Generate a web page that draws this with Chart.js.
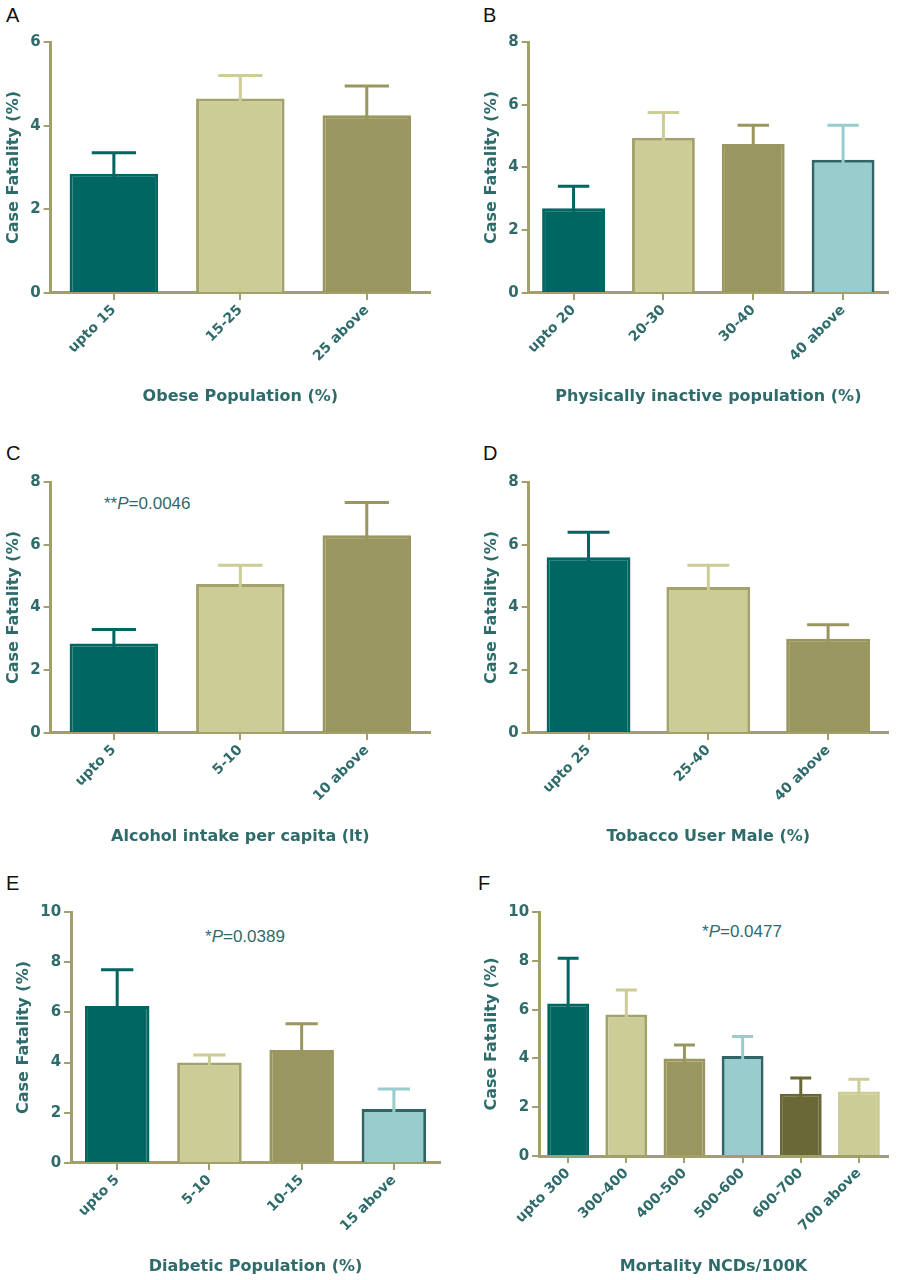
<!DOCTYPE html>
<html><head><meta charset="utf-8">
<script src="https://cdn.jsdelivr.net/npm/chart.js@4"></script>
<style>
body{margin:0;background:#fff;width:907px;height:1280px;position:relative;font-family:"Liberation Sans",Arial,sans-serif;overflow:hidden}
.p{position:absolute}
.lt{position:absolute;font-size:20px;color:#111;font-family:"Liberation Sans",Arial}
.pv{position:absolute;font-size:17px;color:#2f6b6b;font-family:"Liberation Sans",Arial}
</style></head><body>
<div class="lt" style="left:6px;top:4px">A</div>
<div class="lt" style="left:483px;top:4px">B</div>
<div class="lt" style="left:6px;top:442px">C</div>
<div class="lt" style="left:483px;top:442px">D</div>
<div class="lt" style="left:6px;top:872px">E</div>
<div class="lt" style="left:478px;top:872px">F</div>
<div class="pv" style="left:104px;top:494px">**<i>P</i>=0.0046</div>
<div class="pv" style="left:205px;top:927px">*<i>P</i>=0.0389</div>
<div class="pv" style="left:702px;top:922px">*<i>P</i>=0.0477</div>
<div class="p" style="left:0;top:30px;width:440px;height:380px"><canvas id="cA"></canvas></div>
<div class="p" style="left:478px;top:30px;width:420px;height:380px"><canvas id="cB"></canvas></div>
<div class="p" style="left:0;top:470px;width:440px;height:380px"><canvas id="cC"></canvas></div>
<div class="p" style="left:478px;top:470px;width:420px;height:380px"><canvas id="cD"></canvas></div>
<div class="p" style="left:10px;top:900px;width:440px;height:380px"><canvas id="cE"></canvas></div>
<div class="p" style="left:478px;top:900px;width:420px;height:380px"><canvas id="cF"></canvas></div>
<script>
// Data
const catA=["upto 15","15-25","25 above"], valA=[2.85,4.65,4.25], errA=[3.35,5.2,4.95];
const catB=["upto 20","20-30","30-40","40 above"], valB=[2.7,4.95,4.75,4.25], errB=[3.4,5.75,5.35,5.35];
const catC=["upto 5","5-10","10 above"], valC=[2.85,4.75,6.3], errC=[3.3,5.35,7.35];
const catD=["upto 25","25-40","40 above"], valD=[5.6,4.65,3.0], errD=[6.4,5.35,3.45];
const catE=["upto 5","5-10","10-15","15 above"], valE=[6.25,4.0,4.5,2.15], errE=[7.7,4.3,5.55,2.95];
const catF=["upto 300","300-400","400-500","500-600","600-700","700 above"], valF=[6.25,5.8,4.0,4.1,2.55,2.65], errF=[8.1,6.8,4.55,4.9,3.2,3.15];

const TEAL="#006661", KH="#cccc96", KHB="#a3a26a", OL="#99975f", LB="#99cccc", LBB="#2f6566", DO="#6b6837";
const AX="#a39f6a", TXT="#2f6b6b";
const fills=[TEAL,KH,OL,LB,DO,KH], borders=[TEAL,KHB,OL,LBB,DO,KH], errc=[TEAL,KH,OL,LB,DO,KH];
const FF='DejaVu Sans';

const errPlugin={id:'err',afterDatasetsDraw(ch){
  const m=ch.getDatasetMeta(0), ys=ch.scales.y, ctx=ch.ctx, e=ch.options.plugins.err.values;
  m.data.forEach((b,i)=>{
    const yt=ys.getPixelForValue(e[i]), yb=ys.getPixelForValue(ch.data.datasets[0].data[i]);
    const w=b.width*0.5; ctx.save(); ctx.strokeStyle=errc[i]; ctx.lineWidth=3;
    ctx.beginPath(); ctx.moveTo(b.x,yb+6); ctx.lineTo(b.x,yt); ctx.moveTo(b.x-w/2,yt); ctx.lineTo(b.x+w/2,yt); ctx.stroke(); ctx.restore();
  });
}};
function mk(id,cats,vals,errs,max,title,bp){
  new Chart(document.getElementById(id),{type:'bar',
    data:{labels:cats,datasets:[{data:vals,backgroundColor:fills.slice(0,cats.length),borderColor:borders.slice(0,cats.length),borderWidth:3,barPercentage:bp,categoryPercentage:1}]},
    options:{animation:false,responsive:true,maintainAspectRatio:false,
      layout:{padding:{left:0,right:10,top:10,bottom:0}},
      plugins:{legend:{display:false},tooltip:{enabled:false},err:{values:errs}},
      scales:{
        x:{grid:{display:true,offset:false,drawOnChartArea:false,color:AX,lineWidth:2,tickLength:7},border:{color:AX,width:3},
           ticks:{color:TXT,font:{size:14,weight:'bold',family:FF},maxRotation:45,minRotation:45,padding:2},
           title:{display:true,text:title,color:TXT,font:{size:16,weight:'bold',family:FF},padding:{top:20}}},
        y:{min:0,max:max,grid:{display:true,drawOnChartArea:false,color:AX,lineWidth:2,tickLength:7},border:{color:AX,width:3},
           ticks:{stepSize:2,color:TXT,font:{size:15,weight:'bold',family:FF},padding:3},
           title:{display:true,text:'Case Fatality (%)',color:TXT,font:{size:16,weight:'bold',family:FF},padding:4}}
      }},plugins:[errPlugin]});
}
mk('cA',catA,valA,errA,6,'Obese Population (%)',0.7);
mk('cB',catB,valB,errB,8,'Physically inactive population (%)',0.7);
mk('cC',catC,valC,errC,8,'Alcohol intake per capita (lt)',0.7);
mk('cD',catD,valD,errD,8,'Tobacco User Male (%)',0.7);
mk('cE',catE,valE,errE,10,'Diabetic Population (%)',0.7);
mk('cF',catF,valF,errF,10,'Mortality NCDs/100K',0.72);
</script>
</body></html>
